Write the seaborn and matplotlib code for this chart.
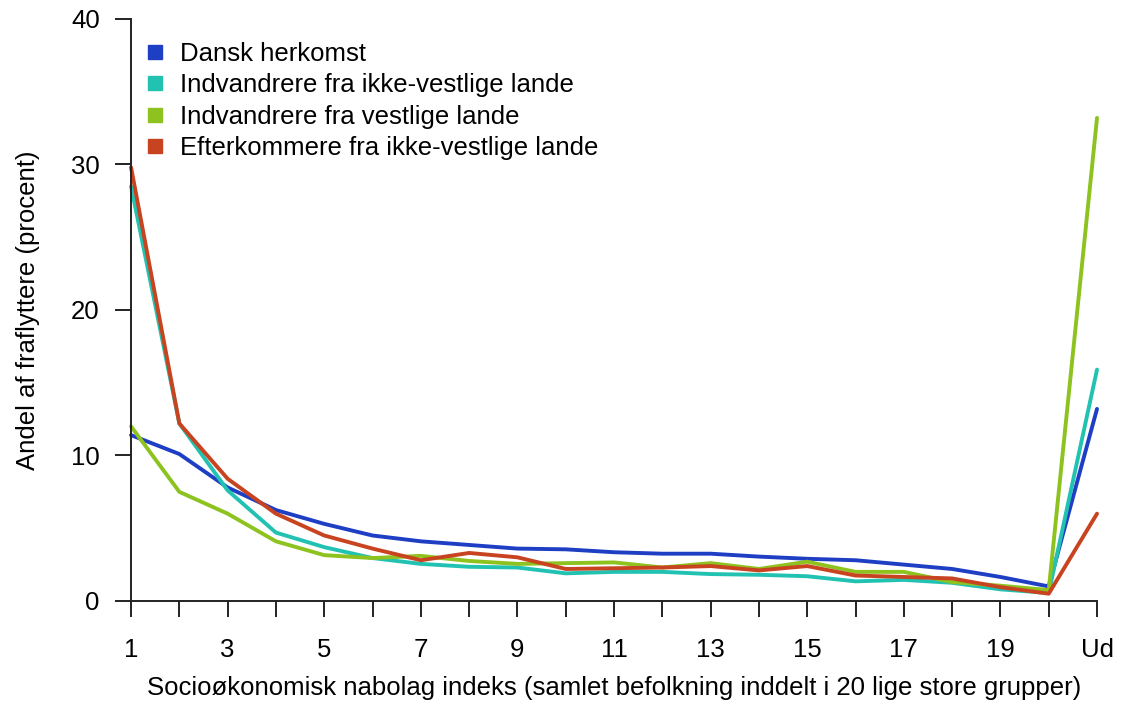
import pandas as pd
import seaborn as sns
import matplotlib.pyplot as plt
from matplotlib.lines import Line2D

# Grupper (1-20) og "Ud"
positions = list(range(1, 22))
tick_labels = [str(i) if i % 2 == 1 else '' for i in range(1, 21)] + ['Ud']

dansk = [11.4, 10.1, 7.8, 6.25, 5.3, 4.5, 4.1, 3.85, 3.6, 3.55, 3.35, 3.25, 3.25, 3.05, 2.9, 2.8, 2.5, 2.2, 1.65, 1.0, 13.2]
ikke_vestlige = [28.5, 12.2, 7.6, 4.7, 3.7, 2.95, 2.55, 2.35, 2.3, 1.9, 2.0, 2.0, 1.85, 1.8, 1.7, 1.35, 1.45, 1.25, 0.8, 0.55, 15.9]
vestlige = [12.0, 7.5, 6.0, 4.1, 3.15, 2.95, 3.1, 2.75, 2.55, 2.6, 2.65, 2.3, 2.6, 2.2, 2.7, 2.0, 2.0, 1.3, 1.05, 0.75, 33.2]
efterkommere = [29.8, 12.2, 8.4, 6.0, 4.5, 3.6, 2.8, 3.3, 3.0, 2.2, 2.25, 2.3, 2.4, 2.1, 2.4, 1.75, 1.65, 1.55, 0.95, 0.5, 6.0]

groups = ['Dansk herkomst', 'Indvandrere fra ikke-vestlige lande',
          'Indvandrere fra vestlige lande', 'Efterkommere fra ikke-vestlige lande']
colors = ['#1e3fc4', '#22c2b2', '#8dc21f', '#c8431f']

df = pd.concat([
    pd.DataFrame({'x': positions, 'y': vals, 'gruppe': g})
    for g, vals in zip(groups, [dansk, ikke_vestlige, vestlige, efterkommere])
])

sns.set_style('white')
plt.rcParams['font.family'] = ['Liberation Sans', 'DejaVu Sans']
plt.rcParams['text.color'] = 'black'
plt.rcParams['axes.labelcolor'] = 'black'
plt.rcParams['xtick.color'] = 'black'
plt.rcParams['ytick.color'] = 'black'

fig = plt.figure(figsize=(11.21, 7.26), dpi=100)
ax = fig.add_axes([0.1169, 0.1722, 0.8617, 0.8017])

sns.lineplot(data=df, x='x', y='y', hue='gruppe', palette=colors, linewidth=2.8,
             legend=False, ax=ax, clip_on=False)

ax.set_xlim(1, 21)
ax.set_ylim(0, 40)
ax.set_xticks(positions)
ax.set_xticklabels(tick_labels, fontsize=18.5)
ax.set_yticks([0, 10, 20, 30, 40])
ax.set_yticklabels(['0', '10', '20', '30', '40'], fontsize=18.5)
ax.tick_params(axis='both', bottom=True, left=True, length=11.5, width=1.4,
               color='#222222', direction='out')
ax.tick_params(axis='x', pad=15)
ax.tick_params(axis='y', pad=11)

for s in ['top', 'right']:
    ax.spines[s].set_visible(False)
for s in ['left', 'bottom']:
    ax.spines[s].set_linewidth(1.4)
    ax.spines[s].set_color('#222222')

ax.set_xlabel('Socioøkonomisk nabolag indeks (samlet befolkning inddelt i 20 lige store grupper)',
              fontsize=18.5, labelpad=10)
ax.set_ylabel('Andel af fraflyttere (procent)', fontsize=18.5, labelpad=22)

handles = [Line2D([0], [0], marker='s', linestyle='none', markersize=9.5,
                  markerfacecolor=c, markeredgecolor=c) for c in colors]
ax.legend(handles, groups, loc='upper left', bbox_to_anchor=(0.012, 0.96), frameon=False,
          fontsize=18.5, handlelength=1.0, handletextpad=0.45, labelspacing=0.28,
          borderaxespad=0.0, borderpad=0.0)

fig.savefig('out.png', dpi=100)
